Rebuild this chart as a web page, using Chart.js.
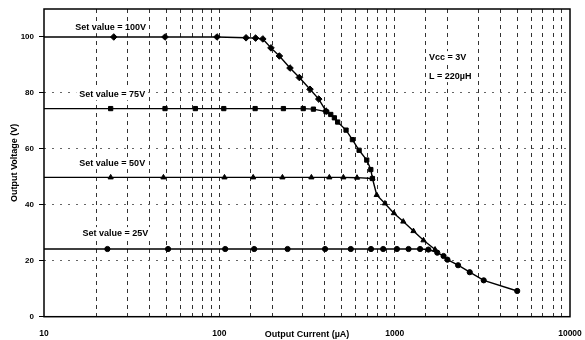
<!DOCTYPE html>
<html><head><meta charset="utf-8">
<script src="https://cdn.jsdelivr.net/npm/chart.js@4/dist/chart.umd.min.js"></script>
<style>html,body{margin:0;padding:0;background:#fff}#wrap{width:585px;height:340px}</style>
</head><body><div id="wrap"><canvas id="c" width="585" height="340"></canvas></div>
<script>
// Output current (µA) and output voltage (V) for each set value
const current100 = [10, 25, 49, 97, 142, 161, 177, 197, 220, 253, 286, 329, 369, 406];
const voltage100 = [100, 100, 100, 100, 99.7, 99.6, 99.3, 96.1, 93.2, 88.9, 85.5, 81.3, 77.8, 73.5];

const current75 = [10, 24, 49, 73, 106, 160, 232, 301, 344, 406, 432, 453, 473, 528, 574, 627, 693, 731, 747];
const voltage75 = [74.4, 74.4, 74.4, 74.4, 74.4, 74.4, 74.4, 74.4, 74.2, 73.3, 72.3, 71.1, 69.6, 66.7, 63.3, 59.5, 56.0, 52.6, 49.4];

const current50 = [10, 24, 48, 107, 156, 229, 335, 424, 510, 610, 747, 790, 880, 990, 1120, 1280, 1460, 1700];
const voltage50 = [49.8, 49.8, 49.8, 49.8, 49.8, 49.8, 49.8, 49.8, 49.8, 49.7, 49.4, 43.5, 40.5, 37.0, 34.0, 30.6, 27.3, 24.0];

const current25 = [10, 23, 51, 108, 158, 245, 401, 562, 733, 860, 1030, 1200, 1396, 1557, 1750, 1900, 2000, 2300, 2680, 3220, 5000];
const voltage25 = [24.2, 24.2, 24.2, 24.2, 24.2, 24.2, 24.2, 24.2, 24.2, 24.2, 24.2, 24.2, 24.2, 24.0, 22.9, 21.7, 20.4, 18.4, 15.9, 13.0, 9.2];

const seriesLabels = ['Set value = 100V', 'Set value = 75V', 'Set value = 50V', 'Set value = 25V'];
const xTickLabels = [10, 100, 1000, 10000];
const yTickValues = [0, 20, 40, 60, 80, 100];

const FONT = '"Liberation Sans", Arial, sans-serif';

function pts(xs, ys){ return xs.map((x,i)=>({x:x, y:ys[i]})); }

const textNotes = [
  {text: seriesLabels[0], x: 24, y: 103.5, align: 'center'},
  {text: seriesLabels[1], x: 24.5, y: 79.5, align: 'center'},
  {text: seriesLabels[2], x: 24.5, y: 54.9, align: 'center'},
  {text: seriesLabels[3], x: 25.5, y: 29.9, align: 'center'},
  {text: 'Vcc = 3V', x: 1570, y: 92.8, align: 'left'},
  {text: 'L = 220µH', x: 1570, y: 86.0, align: 'left'}
];

const notesPlugin = {
  id: 'notes',
  beforeDatasetsDraw(chart){
    const ctx = chart.ctx, xs = chart.scales.x, ys = chart.scales.y;
    ctx.save();
    ctx.font = 'bold 9px ' + FONT;
    ctx.textBaseline = 'middle';
    textNotes.forEach(n => {
      const px = xs.getPixelForValue(n.x), py = ys.getPixelForValue(n.y);
      const w = ctx.measureText(n.text).width;
      const x0 = n.align === 'center' ? px - w / 2 : px;
      ctx.fillStyle = '#fff';
      ctx.fillRect(x0 - 3, py - 6, w + 6, 12);
      ctx.fillStyle = '#000';
      ctx.textAlign = n.align;
      ctx.fillText(n.text, px, py);
    });
    ctx.restore();
  },
  afterDraw(chart){
    const ctx = chart.ctx, a = chart.chartArea;
    ctx.save();
    ctx.strokeStyle = '#000';
    ctx.lineWidth = 1.5;
    ctx.setLineDash([]);
    ctx.strokeRect(a.left, a.top, a.right - a.left, a.bottom - a.top);
    ctx.restore();
  }
};

const common = {borderColor:'#000', backgroundColor:'#000', pointBackgroundColor:'#000', pointBorderColor:'#000', borderWidth:1.4, pointBorderWidth:1, tension:0, fill:false};
const firstHidden = r => (ctx => ctx.dataIndex === 0 ? 0 : r);

new Chart(document.getElementById('c'), {
  type: 'line',
  data: {
    datasets: [
      Object.assign({label: seriesLabels[0], data: pts(current100, voltage100), pointStyle:'rectRot', pointRadius: firstHidden(3.3)}, common),
      Object.assign({label: seriesLabels[1], data: pts(current75, voltage75), pointStyle:'rect', pointRadius: firstHidden(3)}, common),
      Object.assign({label: seriesLabels[2], data: pts(current50, voltage50), pointStyle:'triangle', pointRadius: firstHidden(3)}, common),
      Object.assign({label: seriesLabels[3], data: pts(current25, voltage25), pointStyle:'circle', pointRadius: firstHidden(2.6)}, common)
    ]
  },
  options: {
    responsive: false,
    devicePixelRatio: 1,
    animation: false,
    layout: {padding: {left: 9, right: 15, top: 9, bottom: 0}},
    plugins: {legend: {display: false}, tooltip: {enabled: false}},
    scales: {
      x: {
        type: 'logarithmic', min: 10, max: 10000,
        afterFit(s){ s.height = 23.3; s.paddingRight = 0; s.paddingLeft = 0; },
        border: {display: false, dash: [4, 4]},
        grid: {
          color: ctx => (ctx.tick && (ctx.tick.value === 10 || ctx.tick.value === 10000)) ? 'rgba(0,0,0,0)' : '#333',
          lineWidth: 1, drawTicks: false, tickLength: 0
        },
        ticks: {
          autoSkip: false, maxRotation: 0, padding: 12, color: '#000',
          font: {family: FONT, size: 8.5, weight: 'bold'},
          callback: (v) => xTickLabels.includes(v) ? String(v) : ''
        },
        title: {display: true, text: 'Output Current (µA)', color: '#000', font: {family: FONT, size: 9, weight: 'bold'}, padding: {top: 0, bottom: 0.5}}
      },
      y: {
        type: 'linear', min: 0, max: 110,
        afterBuildTicks(s){ s.ticks = yTickValues.map(v => ({value: v})); },
        afterFit(s){ s.width = 35; s.paddingTop = 0; s.paddingBottom = 0; },
        border: {display: false, dash: [2, 6]},
        grid: {
          color: ctx => (ctx.tick && ctx.tick.value > 0 && ctx.tick.value < 100) ? '#666' : 'rgba(0,0,0,0)',
          lineWidth: 1, tickLength: 5, tickColor: '#000', tickWidth: 1, tickBorderDash: [0, 0]
        },
        ticks: {padding: 5, color: '#000', font: {family: FONT, size: 8, weight: 'bold'}},
        title: {display: true, text: 'Output Voltage (V)', color: '#000', font: {family: FONT, size: 9, weight: 'bold'}, padding: 0}
      }
    }
  },
  plugins: [notesPlugin]
});
</script></body></html>
